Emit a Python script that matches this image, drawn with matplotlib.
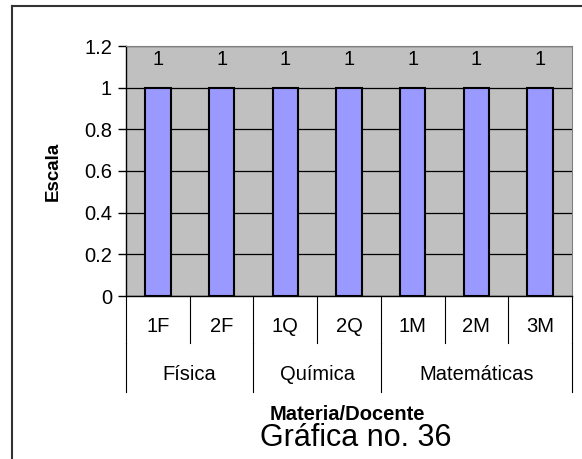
"""
Gráfica no. 36: escala por materia/docente (estilo Excel).
"""

import matplotlib
matplotlib.use('Agg')
import matplotlib.pyplot as plt
from matplotlib.lines import Line2D
from matplotlib.transforms import blended_transform_factory

plt.rcParams['font.family'] = ['Liberation Sans', 'DejaVu Sans']

# Datos
docentes = ['1F', '2F', '1Q', '2Q', '1M', '2M', '3M']
materias = ['Física', 'Química', 'Matemáticas']
docentes_por_materia = [2, 2, 3]
valores = [1, 1, 1, 1, 1, 1, 1]
yticks = [0, 0.2, 0.4, 0.6, 0.8, 1, 1.2]
ytick_labels = ['0', '0.2', '0.4', '0.6', '0.8', '1', '1.2']

W, H = 582, 459
fig = plt.figure(figsize=(W / 100, H / 100), dpi=100)
ax = fig.add_axes([126 / W, (H - 296) / H, (572 - 126) / W, (296 - 46) / H])

x = list(range(len(docentes)))
ax.set_facecolor('#c0c0c0')
ax.bar(x, valores, width=0.4, color='#9999ff', edgecolor='black', linewidth=1.5, zorder=3)

# Etiquetas de valor
for xi, v in zip(x, valores):
    ax.text(xi, v + 0.135, f'{v:g}', ha='center', va='center', fontsize=14.5)

ax.set_xlim(-0.5, len(docentes) - 0.5)
ax.set_ylim(0, 1.2)
ax.set_yticks(yticks)
ax.set_yticklabels(ytick_labels, fontsize=14.5)
ax.yaxis.grid(True, color='black', linewidth=0.9, zorder=1)
ax.set_axisbelow(True)
ax.tick_params(axis='y', length=6, width=1, direction='out', pad=4)
ax.set_xticks([])

for side in ['top', 'right']:
    ax.spines[side].set_color('#808080')
for side in ['left', 'bottom']:
    ax.spines[side].set_color('black')
    ax.spines[side].set_linewidth(1)

ax.set_ylabel('Escala', fontsize=13.5, fontweight='bold', labelpad=16)

# Eje de categorías en dos niveles
tr = blended_transform_factory(ax.transData, ax.transAxes)
h1 = -(343 - 296) / 250
h2 = -(392 - 296) / 250
for i in range(len(docentes) + 1):
    ax.add_line(Line2D([i - 0.5, i - 0.5], [0, h1], transform=tr, color='black',
                       linewidth=0.8, clip_on=False))
for i, d in enumerate(docentes):
    ax.text(i, -(327 - 296) / 250, d, transform=tr, ha='center', va='center', fontsize=14.5)

inicio = 0
bordes = [0]
for m, n in zip(materias, docentes_por_materia):
    centro = inicio + (n - 1) / 2
    ax.text(centro, -(375 - 296) / 250, m, transform=tr, ha='center', va='center', fontsize=14.5)
    inicio += n
    bordes.append(inicio)
for b in bordes:
    ax.add_line(Line2D([b - 0.5, b - 0.5], [h1, h2], transform=tr, color='black',
                       linewidth=0.8, clip_on=False))

fig.text(347 / W, 1 - 415 / H, 'Materia/Docente', ha='center', va='center',
         fontsize=14.5, fontweight='bold')
fig.text(356 / W, 1 - 438 / H, 'Gráfica no. 36', ha='center', va='center', fontsize=22)

# Marco exterior
fig.add_artist(Line2D([12 / W, 12 / W], [0, 1 - 6 / H], transform=fig.transFigure,
                      color='#333333', linewidth=1.5))
fig.add_artist(Line2D([12 / W, 1], [1 - 6 / H, 1 - 6 / H], transform=fig.transFigure,
                      color='#333333', linewidth=1.5))

fig.savefig('out.png', dpi=100)
plt.close(fig)
